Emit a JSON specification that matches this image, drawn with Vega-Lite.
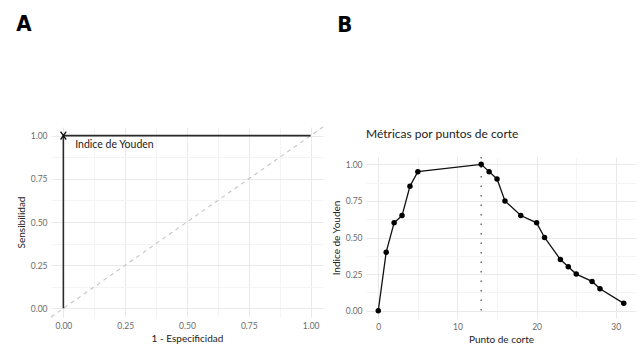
{
  "$schema": "https://vega.github.io/schema/vega-lite/v6.json",
  "padding": {"left": 16, "top": 13, "right": 4, "bottom": 2},
  "spacing": 7,
  "background": "white",
  "config": {
    "view": {"stroke": null},
    "font": "Lato",
    "axis": {
      "domain": false,
      "ticks": false,
      "labelColor": "#6b6b6b",
      "labelFontSize": 8.5,
      "labelFont": "Lato",
      "labelOverlap": false,
      "titleFont": "Lato",
      "titleFontSize": 10,
      "titleFontWeight": "normal",
      "titleColor": "#222222",
      "labelPadding": 4,
      "titlePadding": 4
    }
  },
  "datasets": {
    "roc": [
      {"fpr": 0, "tpr": 0, "step": 1},
      {"fpr": 0, "tpr": 1, "step": 2},
      {"fpr": 1, "tpr": 1, "step": 3}
    ],
    "diag": [{"x": -0.05, "y": -0.05, "x2": 1.05, "y2": 1.05}],
    "youden_pt": [{"fpr": 0, "tpr": 1, "label": "Indice de Youden", "lx": 0.048, "ly": 0.946}],
    "cut": [
      {"corte": 0, "youden": 0.0},
      {"corte": 1, "youden": 0.4},
      {"corte": 2, "youden": 0.6},
      {"corte": 3, "youden": 0.65},
      {"corte": 4, "youden": 0.85},
      {"corte": 5, "youden": 0.95},
      {"corte": 13, "youden": 1.0},
      {"corte": 14, "youden": 0.95},
      {"corte": 15, "youden": 0.9},
      {"corte": 16, "youden": 0.75},
      {"corte": 18, "youden": 0.65},
      {"corte": 20, "youden": 0.6},
      {"corte": 21, "youden": 0.5},
      {"corte": 23, "youden": 0.35},
      {"corte": 24, "youden": 0.3},
      {"corte": 25, "youden": 0.25},
      {"corte": 27, "youden": 0.2},
      {"corte": 28, "youden": 0.15},
      {"corte": 31, "youden": 0.05}
    ],
    "best": [{"corte": 13}],
    "blank": [{"t": ""}]
  },
  "hconcat": [
    {
      "title": {"text": "A", "anchor": "start", "frame": "bounds", "font": "DejaVu Sans Condensed, Liberation Sans Narrow, Roboto, sans-serif", "fontSize": 22, "fontWeight": "bold", "color": "#000000", "offset": 90},
      "vconcat": [
        {
          "width": 272,
          "height": 190,
          "layer": [
            {
              "data": {"name": "diag"},
              "mark": {"type": "rule", "color": "#c4c4c4", "strokeDash": [4, 4], "strokeWidth": 1.1},
              "encoding": {
                "x": {"field": "x", "type": "quantitative", "scale": {"domain": [-0.05, 1.05], "nice": false, "zero": false},
                  "axis": {"title": "1 - Especificidad", "values": [0, 0.125, 0.25, 0.375, 0.5, 0.625, 0.75, 0.875, 1], "tickCount": 20,
                    "labelExpr": "(datum.value*4) % 1 == 0 ? format(datum.value, '.2f') : ''",
                    "gridColor": {"condition": {"test": "(datum.value*4) % 1 != 0", "value": "#f4f4f4"}, "value": "#e9e9e9"}}},
                "y": {"field": "y", "type": "quantitative", "scale": {"domain": [-0.05, 1.05], "nice": false, "zero": false},
                  "axis": {"title": "Sensibilidad", "values": [0, 0.125, 0.25, 0.375, 0.5, 0.625, 0.75, 0.875, 1], "tickCount": 20,
                    "labelExpr": "(datum.value*4) % 1 == 0 ? format(datum.value, '.2f') : ''",
                    "gridColor": {"condition": {"test": "(datum.value*4) % 1 != 0", "value": "#f4f4f4"}, "value": "#e9e9e9"}}},
                "x2": {"field": "x2"},
                "y2": {"field": "y2"}
              }
            },
            {
              "data": {"name": "roc"},
              "mark": {"type": "line", "color": "#2a2a2a", "strokeWidth": 1.6},
              "encoding": {
                "x": {"field": "fpr", "type": "quantitative"},
                "y": {"field": "tpr", "type": "quantitative"},
                "order": {"field": "step"}
              }
            },
            {
              "data": {"name": "youden_pt"},
              "mark": {"type": "point", "shape": "M-0.7,-1L0.7,1M-0.7,1L0.7,-1", "filled": false, "color": "#111111", "strokeWidth": 1.4, "size": 64, "opacity": 1},
              "encoding": {
                "x": {"field": "fpr", "type": "quantitative"},
                "y": {"field": "tpr", "type": "quantitative"}
              }
            },
            {
              "data": {"name": "youden_pt"},
              "mark": {"type": "text", "align": "left", "baseline": "middle", "fontSize": 10.5, "color": "#222222", "font": "Lato"},
              "encoding": {
                "x": {"field": "lx", "type": "quantitative"},
                "y": {"field": "ly", "type": "quantitative"},
                "text": {"field": "label"}
              }
            }
          ]
        }
      ]
    },
    {
      "title": {"text": "B", "anchor": "start", "frame": "bounds", "font": "DejaVu Sans Condensed, Liberation Sans Narrow, Roboto, sans-serif", "fontSize": 22, "fontWeight": "bold", "color": "#000000", "offset": 90, "dx": 6},
      "spacing": 0,
      "vconcat": [
        {
          "width": 270,
          "height": 1,
          "data": {"name": "blank"},
          "mark": {"type": "text", "fontSize": 0},
          "encoding": {"text": {"field": "t"}}
        },
        {
          "width": 270,
          "height": 161,
          "title": {"text": "Métricas por puntos de corte", "anchor": "start", "frame": "group", "font": "Lato", "fontSize": 12, "fontWeight": "normal", "color": "#222222", "offset": 15},
          "layer": [
            {
              "data": {"name": "cut"},
              "mark": {"type": "line", "color": "#111111", "strokeWidth": 1.3},
              "encoding": {
                "x": {"field": "corte", "type": "quantitative", "scale": {"domain": [-1.55, 32.55], "nice": false, "zero": false},
                  "axis": {"title": "Punto de corte", "values": [0, 5, 10, 15, 20, 25, 30], "tickCount": 20,
                    "labelExpr": "datum.value % 10 == 0 ? format(datum.value, 'd') : ''",
                    "gridColor": {"condition": {"test": "datum.value % 10 != 0", "value": "#f4f4f4"}, "value": "#e9e9e9"}}},
                "y": {"field": "youden", "type": "quantitative", "scale": {"domain": [-0.05, 1.05], "nice": false, "zero": false},
                  "axis": {"title": "Indice de Youden", "values": [0, 0.125, 0.25, 0.375, 0.5, 0.625, 0.75, 0.875, 1], "tickCount": 20,
                    "labelExpr": "(datum.value*4) % 1 == 0 ? format(datum.value, '.2f') : ''",
                    "gridColor": {"condition": {"test": "(datum.value*4) % 1 != 0", "value": "#f4f4f4"}, "value": "#e9e9e9"}}}
              }
            },
            {
              "data": {"name": "best"},
              "mark": {"type": "rule", "color": "#777777", "strokeDash": [1.5, 8], "strokeWidth": 1.6},
              "encoding": {
                "x": {"field": "corte", "type": "quantitative"}
              }
            },
            {
              "data": {"name": "cut"},
              "mark": {"type": "point", "filled": true, "color": "#000000", "size": 30, "opacity": 1},
              "encoding": {
                "x": {"field": "corte", "type": "quantitative"},
                "y": {"field": "youden", "type": "quantitative"}
              }
            }
          ]
        }
      ]
    }
  ]
}
